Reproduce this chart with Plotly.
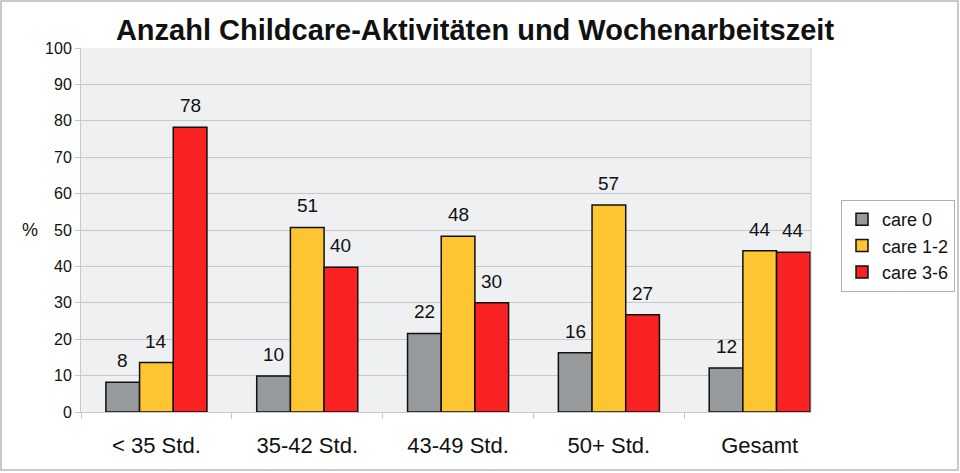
import plotly.graph_objects as go

categories = ["< 35 Std.", "35-42 Std.", "43-49 Std.", "50+ Std.", "Gesamt"]
care0 = [8.2, 9.9, 21.6, 16.3, 12.1]
care12 = [13.6, 50.7, 48.3, 56.9, 44.3]
care36 = [78.2, 39.8, 30.0, 26.7, 43.9]
series_names = ["care 0", "care 1-2", "care 3-6"]
colors = ["#969a9d", "#fdc532", "#fa2123"]

L, R, T, B = 81, 811, 48, 412
W, H = 960, 473
pw, ph = R - L, B - T
xmax = 4.34
cat_px = pw / (xmax + 0.5)
bargap = 0.33
barw_px = cat_px * (1 - bargap) / 3

fig = go.Figure()
annotations = []
for k, (name, vals, col) in enumerate(zip(series_names, [care0, care12, care36], colors)):
    fig.add_trace(go.Bar(
        x=categories, y=vals, name=name,
        marker=dict(color=col, line=dict(color="#111111", width=1.5)),
    ))
    for c, v in zip(categories, vals):
        annotations.append(dict(
            x=c, y=v, xref="x", yref="y", text=f"{round(v):d}", showarrow=False,
            xshift=(k - 1) * barw_px, yshift=9, yanchor="bottom",
            font=dict(size=19, color="#111111")))

annotations.append(dict(text="%", xref="paper", yref="paper", x=(30 - L) / pw, y=(B - 230) / ph,
                        xanchor="center", yanchor="middle", showarrow=False, font=dict(size=18)))

fig.update_layout(
    width=W, height=H,
    margin=dict(l=L, r=W - R, t=T, b=H - B, autoexpand=False),
    paper_bgcolor="white", plot_bgcolor="#eff0f2",
    font=dict(family="Liberation Sans, Arial, sans-serif", color="#111111"),
    barmode="group", bargap=bargap, bargroupgap=0,
    title=dict(text="<b>Anzahl Childcare-Aktivitäten und Wochenarbeitszeit</b>",
               x=475 / W, xanchor="center", y=1 - 30 / H, yanchor="middle",
               font=dict(size=29, color="#111111")),
    legend=dict(x=(955 - L) / pw, y=(B - 200) / ph, xanchor="right", yanchor="top",
                bgcolor="white", bordercolor="#b0b0b0", borderwidth=1,
                font=dict(size=18), itemwidth=30, tracegroupgap=2),
    xaxis=dict(showgrid=False, ticks="outside", tickson="boundaries", ticklen=6,
               tickcolor="#c8c8c8", showline=True, linecolor="#c8c8c8",
               tickfont=dict(size=22), range=[-0.5, xmax], automargin=False,
               ticklabelstandoff=14),
    yaxis=dict(range=[0, 100], dtick=10, showgrid=True, gridcolor="#c8c8c8",
               ticks="outside", ticklen=5, tickcolor="#c8c8c8", showline=True,
               linecolor="#c8c8c8", tickfont=dict(size=16), zeroline=False,
               automargin=False),
    showlegend=True,
    shapes=[
        dict(type="rect", xref="paper", yref="paper",
             x0=(1 - L) / pw, x1=(958 - L) / pw, y0=(B - 470) / ph, y1=(B - 1) / ph,
             line=dict(color="#b8b8b8", width=1.5), fillcolor="rgba(0,0,0,0)", layer="below"),
        dict(type="line", xref="paper", yref="paper", x0=1, x1=1, y0=0, y1=1,
             line=dict(color="#c8c8c8", width=1)),
    ],
    annotations=annotations,
)

fig.write_html("out.html", config={"displayModeBar": False},
               post_script="document.body.style.margin='0';document.body.style.overflow='hidden';")
